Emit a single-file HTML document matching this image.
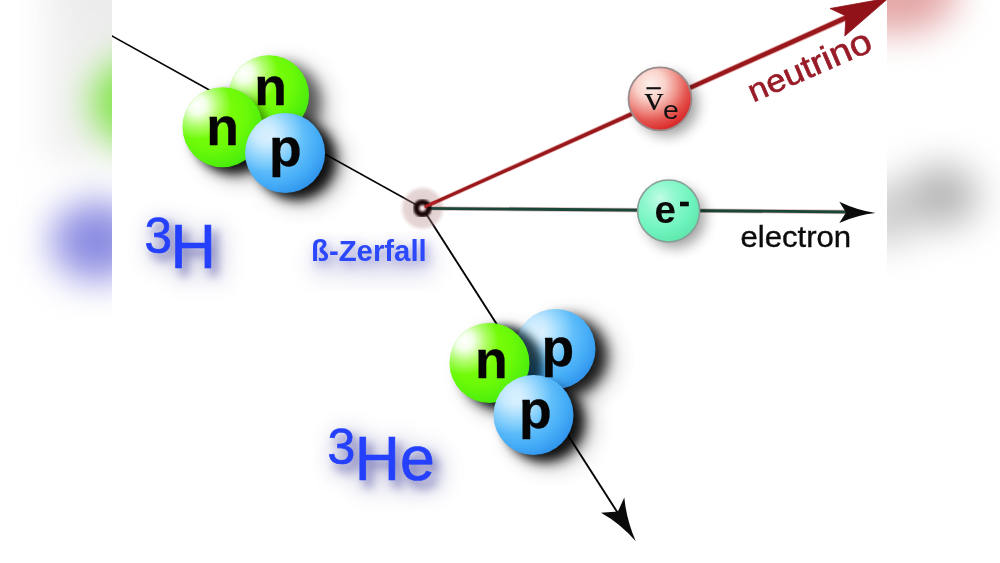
<!DOCTYPE html>
<html><head><meta charset="utf-8"><title>Beta-Zerfall</title>
<style>
html,body{margin:0;padding:0;background:#fff}
body{width:1000px;height:563px;overflow:hidden;position:relative;font-family:"Liberation Sans",sans-serif}
svg{position:absolute;left:0;top:0;display:block}
text{font-family:"Liberation Sans",sans-serif}
.ser{font-family:"Liberation Serif",serif}
</style></head>
<body>
<svg width="1000" height="563" viewBox="0 0 1000 563">
<defs>
  <!-- ball gradients -->
  <radialGradient id="gGreen" cx="0.36" cy="0.34" r="0.78">
    <stop offset="0" stop-color="#86ff08"/>
    <stop offset="0.55" stop-color="#6cfa08"/>
    <stop offset="0.85" stop-color="#4cee0c"/>
    <stop offset="1" stop-color="#3ad612"/>
  </radialGradient>
  <radialGradient id="gBlue" cx="0.34" cy="0.32" r="0.82">
    <stop offset="0" stop-color="#aadeff"/>
    <stop offset="0.35" stop-color="#70c8fc"/>
    <stop offset="0.7" stop-color="#44acf7"/>
    <stop offset="1" stop-color="#2688e6"/>
  </radialGradient>
  <radialGradient id="gRed" cx="0.35" cy="0.27" r="0.8">
    <stop offset="0" stop-color="#fdf0ea"/>
    <stop offset="0.28" stop-color="#f9d4cc"/>
    <stop offset="0.5" stop-color="#f09a92"/>
    <stop offset="0.72" stop-color="#e45650"/>
    <stop offset="0.9" stop-color="#dc3030"/>
    <stop offset="1" stop-color="#cc2020"/>
  </radialGradient>
  <radialGradient id="gMint" cx="0.36" cy="0.3" r="0.78">
    <stop offset="0" stop-color="#c2fce6"/>
    <stop offset="0.3" stop-color="#92f8ce"/>
    <stop offset="0.65" stop-color="#70f4be"/>
    <stop offset="1" stop-color="#5ae4aa"/>
  </radialGradient>
  <radialGradient id="hl" cx="0.5" cy="0.5" r="0.5">
    <stop offset="0" stop-color="#fff" stop-opacity="1"/>
    <stop offset="0.26" stop-color="#fff" stop-opacity="0.9"/>
    <stop offset="0.6" stop-color="#fff" stop-opacity="0.42"/>
    <stop offset="1" stop-color="#fff" stop-opacity="0"/>
  </radialGradient>
  <radialGradient id="halo" cx="0.5" cy="0.5" r="0.5">
    <stop offset="0" stop-color="#b08484" stop-opacity="0.42"/>
    <stop offset="0.78" stop-color="#b88c8c" stop-opacity="0.36"/>
    <stop offset="1" stop-color="#c8a0a0" stop-opacity="0"/>
  </radialGradient>
  <filter color-interpolation-filters="sRGB" id="sh" x="-60%" y="-60%" width="220%" height="220%"><feGaussianBlur stdDeviation="6.5"/></filter>
  <filter color-interpolation-filters="sRGB" id="shw" x="-80%" y="-80%" width="260%" height="260%"><feGaussianBlur stdDeviation="12"/></filter>
  <filter color-interpolation-filters="sRGB" id="sh2" x="-50%" y="-50%" width="200%" height="200%"><feGaussianBlur stdDeviation="4.5"/></filter>
  <filter color-interpolation-filters="sRGB" id="soft" x="-20%" y="-20%" width="140%" height="140%"><feGaussianBlur stdDeviation="0.9"/></filter>
  <filter color-interpolation-filters="sRGB" id="tsh" x="-40%" y="-40%" width="180%" height="180%"><feGaussianBlur stdDeviation="5"/></filter>
  <filter color-interpolation-filters="sRGB" id="tsh2" x="-40%" y="-40%" width="180%" height="180%"><feGaussianBlur stdDeviation="11"/></filter>
  <filter color-interpolation-filters="sRGB" id="bgblur" x="-100" y="-100" width="1200" height="763" filterUnits="userSpaceOnUse"><feGaussianBlur stdDeviation="18"/></filter>
  <filter color-interpolation-filters="sRGB" id="jpg" x="0" y="0" width="1000" height="563" filterUnits="userSpaceOnUse"><feGaussianBlur stdDeviation="0.6"/></filter>
  <clipPath id="cl"><rect x="112" y="0" width="775" height="563"/></clipPath>
  <clipPath id="c40"><circle r="40"/></clipPath>

  <!-- balls (centred on origin) -->
  <g id="bGreen">
    <circle r="40" fill="url(#gGreen)"/>
    <g clip-path="url(#c40)"><circle cx="-25" cy="-22" r="34" fill="url(#hl)"/></g>
  </g>
  <g id="bBlue">
    <circle r="40" fill="url(#gBlue)"/>
    <g clip-path="url(#c40)"><circle cx="-22" cy="-21" r="40" fill="url(#hl)" opacity="0.62"/></g>
  </g>
  <circle id="bSh" r="39.5" cx="12" cy="7" fill="#000" opacity="0.85" filter="url(#sh)"/>
  <circle id="bShW" r="40" cx="17" cy="10" fill="#000" opacity="0.3" filter="url(#shw)"/>
  <circle id="bShG" r="39.5" cx="14" cy="3" fill="#00141c" opacity="0.8" filter="url(#sh2)"/>
  <circle id="bShL" r="39" cx="8" cy="5" fill="#000" opacity="0.4" filter="url(#sh2)"/>

  <g id="lbl">
    <text x="144.5" y="252.8" font-size="50" textLength="27.5" lengthAdjust="spacingAndGlyphs">3</text>
    <text x="170.6" y="268.4" font-size="63" textLength="45.5" lengthAdjust="spacingAndGlyphs">H</text>
    <text x="327.5" y="464.3" font-size="50" textLength="27.8" lengthAdjust="spacingAndGlyphs">3</text>
    <text x="354.8" y="480.3" font-size="63" textLength="80" lengthAdjust="spacingAndGlyphs">He</text>
  </g>
  <g id="lblZ">
    <text x="311" y="260.7" font-size="30" font-weight="bold" textLength="115.7" lengthAdjust="spacingAndGlyphs">ß-Zerfall</text>
  </g>

  <g id="art">
    <rect x="90" y="-20" width="820" height="603" fill="#fff"/>

    <!-- text shadows -->
    <g filter="url(#tsh2)" fill="#7c7cb4" stroke="#7c7cb4" stroke-width="9" opacity="0.42" transform="translate(6 7)">
      <use href="#lbl"/>
    </g>
    <g filter="url(#tsh)" fill="#5c5cac" stroke="#5c5cac" stroke-width="1.8" opacity="0.6" transform="translate(5.5 6.5)">
      <use href="#lbl"/>
    </g>
    <g filter="url(#tsh2)" fill="#8080c0" stroke="#8080c0" stroke-width="7" opacity="0.3" transform="translate(4 11)">
      <use href="#lblZ"/>
    </g>
    <g filter="url(#tsh)" fill="#6868c0" stroke="#6868c0" stroke-width="1" opacity="0.42" transform="translate(3.5 4.5)">
      <use href="#lblZ"/>
    </g>

    <!-- incoming line -->
    <line x1="100" y1="29.3" x2="422.5" y2="208.3" stroke="#050505" stroke-width="1.65"/>
    <!-- outgoing He line -->
    <line x1="422.5" y1="208.3" x2="622" y2="519.5" stroke="#050505" stroke-width="1.9"/>
    <path d="M635.8 541.3 Q626.5 520 624.3 497.6 L617.9 511.5 L601 512.7 Q620.5 523.5 635.8 541.3 Z" fill="#0a0a0a"/>

    <!-- halo at vertex -->
    <circle cx="422.5" cy="208.3" r="23" fill="url(#halo)"/>

    <!-- electron line -->
    <line x1="422.5" y1="208.3" x2="850" y2="212" stroke="#c09090" stroke-width="4.3" opacity="0.6"/>
    <line x1="422.5" y1="208.3" x2="850" y2="212" stroke="#1a4638" stroke-width="2.8"/>
    <path d="M875.6 213 Q857 210.3 839.3 201.8 L846 212.4 L839.3 222.9 Q857 215 875.6 213 Z" fill="#0a0a0a"/>

    <!-- neutrino line -->
    <path d="M423.4 209.9 L421.6 205.9 L848.65 12.9 L851.35 18.9 Z" fill="#d88a8a" opacity="0.75"/>
    <path d="M423.07 209.18 L421.93 206.62 L849.06 13.8 L850.94 18 Z" fill="#98181c"/>
    <path d="M888.5 -2 L830 8.5 L846 16 L844.8 36 Z" fill="#92121a" stroke="#92121a" stroke-width="0.8" stroke-linejoin="round"/>

    <!-- vertex -->
    <circle cx="422.5" cy="208.3" r="6.2" fill="#fbe6e6" stroke="#1a0606" stroke-width="5.8" filter="url(#soft)"/>
    <line x1="425.8" y1="206.4" x2="436" y2="201.8" stroke="#b02024" stroke-width="3" stroke-linecap="round"/>

    <!-- 3H nucleus -->
    <use href="#bShW" x="269" y="95.2"/>
    <use href="#bShW" x="222.5" y="127.3"/>
    <use href="#bShW" x="285.1" y="153"/>
    <use href="#bSh" x="269" y="95.2" opacity="0.62"/>
    <use href="#bSh" x="222.5" y="127.3"/>
    <use href="#bSh" x="285.1" y="153"/>
    <use href="#bGreen" x="269" y="95.2"/>
    <use href="#bShL" x="222.5" y="127.3"/>
    <use href="#bGreen" x="222.5" y="127.3"/>
    <use href="#bShL" x="285.1" y="153"/>
    <use href="#bBlue" x="285.1" y="153"/>
    <g font-weight="bold" font-size="53.5" fill="#050505" stroke="#050505" stroke-width="0.3" text-anchor="middle">
      <text x="270.7" y="105">n</text>
      <text x="222.7" y="145.2">n</text>
      <text x="285.3" y="165.8">p</text>
    </g>

    <!-- 3He nucleus -->
    <use href="#bShW" x="555.5" y="349"/>
    <use href="#bShW" x="489.5" y="363"/>
    <use href="#bShW" x="533.5" y="415"/>
    <use href="#bSh" x="555.5" y="349"/>
    <use href="#bSh" x="489.5" y="363"/>
    <use href="#bSh" x="533.5" y="415"/>
    <use href="#bBlue" x="555.5" y="349"/>
    <use href="#bShG" x="489.5" y="363"/>
    <use href="#bGreen" x="489.5" y="363"/>
    <use href="#bShL" x="533.5" y="415"/>
    <use href="#bBlue" x="533.5" y="415"/>
    <g font-weight="bold" font-size="53.5" fill="#050505" stroke="#050505" stroke-width="0.3" text-anchor="middle">
      <text x="491.3" y="378">n</text>
      <text x="557.8" y="366.4">p</text>
      <text x="535.4" y="428.2">p</text>
    </g>

    <!-- neutrino ball -->
    <circle cx="667" cy="105" r="31" fill="#000" opacity="0.36" filter="url(#sh)"/>
    <circle cx="660" cy="98.8" r="31.5" fill="url(#gRed)" stroke="#9a8c8c" stroke-width="1.8"/>
    <text class="ser" x="644.5" y="109.5" font-size="34" fill="#111" textLength="19" lengthAdjust="spacingAndGlyphs">v</text>
    <rect x="646.4" y="87.2" width="14.4" height="2.1" fill="#111"/>
    <text x="663" y="119.2" font-size="25" fill="#111" textLength="15.8" lengthAdjust="spacingAndGlyphs">e</text>

    <!-- electron ball -->
    <circle cx="675" cy="217.5" r="30.5" fill="#000" opacity="0.36" filter="url(#sh)"/>
    <circle cx="668.6" cy="211" r="31" fill="url(#gMint)" stroke="#8a9e98" stroke-width="1.6"/>
    <text x="654.4" y="223.3" font-size="38.5" font-weight="bold" fill="#0a0a0a">e</text>
    <rect x="680" y="201.7" width="8.8" height="4.6" fill="#0a0a0a"/>

    <!-- labels -->
    <text x="740.4" y="246.6" font-size="28.6" fill="#0c0c0c" stroke="#0c0c0c" stroke-width="0.35" textLength="110.8" lengthAdjust="spacingAndGlyphs">electron</text>
    <text transform="translate(753.3 102.4) rotate(-23.4)" font-size="32" fill="#981c28" stroke="#981c28" stroke-width="0.6" textLength="132" lengthAdjust="spacingAndGlyphs"><tspan font-size="31">n</tspan><tspan font-size="31.6">e</tspan><tspan font-size="32.2">u</tspan><tspan font-size="32.8">t</tspan><tspan font-size="33.4">r</tspan><tspan font-size="34">i</tspan><tspan font-size="34.7">n</tspan><tspan font-size="35.5">o</tspan></text>

    <use href="#lbl" fill="#2440fc" stroke="#2440fc" stroke-width="0.7"/>
    <use href="#lblZ" fill="#2c48fc"/>
  </g>
</defs>

<rect width="1000" height="563" fill="#fff"/>
<!-- blurred, enlarged backdrop -->
<g filter="url(#bgblur)">
  <rect x="46" y="-60" width="200" height="222" fill="#f0f0f0"/>
  <ellipse cx="185" cy="0" rx="120" ry="55" fill="#ececec"/>
  <ellipse cx="150" cy="102" rx="58" ry="47" fill="#7ce440"/>
  <ellipse cx="97" cy="241" rx="46" ry="40" fill="#8c8ce2"/>
  <ellipse cx="896" cy="-8" rx="62" ry="42" fill="#e4a6a6"/>
  <ellipse cx="941" cy="196" rx="38" ry="31" fill="#b6b6b6"/>
  <ellipse cx="888" cy="214" rx="32" ry="32" fill="#cecece"/>
</g>
<!-- main picture -->
<g clip-path="url(#cl)"><g filter="url(#jpg)"><use href="#art"/></g></g>
</svg>
</body></html>
